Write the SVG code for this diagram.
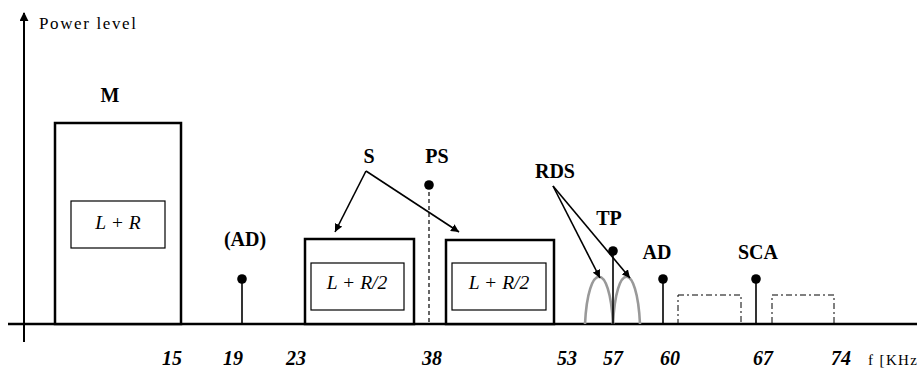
<svg xmlns="http://www.w3.org/2000/svg" width="917" height="369" viewBox="0 0 917 369">
<style>
.lbl{font-family:'Liberation Serif','DejaVu Serif',serif;font-weight:bold;font-size:20px;fill:#000;text-anchor:middle}
.num{font-family:'Liberation Serif','DejaVu Serif',serif;font-weight:bold;font-style:italic;font-size:20px;fill:#000;text-anchor:middle}
.math{font-family:'Liberation Serif','DejaVu Serif',serif;font-style:italic;font-size:19.5px;fill:#000;text-anchor:middle}
.axt{font-family:'Liberation Serif','DejaVu Serif',serif;font-size:17px;fill:#000}
.outer{fill:#fff;stroke:#000;stroke-width:2.5}
.inner{fill:#fff;stroke:#000;stroke-width:1.2}
.stem{stroke:#000;stroke-width:1.6;fill:none}
.dot{fill:#000}
.arr{stroke:#000;stroke-width:1.6;fill:none;marker-end:url(#ah)}
.dd{fill:none;stroke:#000;stroke-width:1;stroke-dasharray:6 3 2 3}
.arch{fill:none;stroke:#999;stroke-width:2.6}
</style>
<defs>
<marker id="ah" viewBox="0 0 10 10" refX="10" refY="5" markerWidth="8" markerHeight="8" markerUnits="userSpaceOnUse" orient="auto">
<path d="M0,0 L10,5 L0,10 z" fill="#000"/>
</marker>
<marker id="ahAx" viewBox="0 0 10 10" refX="9" refY="5" markerWidth="9" markerHeight="9" markerUnits="userSpaceOnUse" orient="auto">
<path d="M0,0 L10,5 L0,10 z" fill="#000"/>
</marker>
</defs>

<g id="axes">
<line x1="24" y1="342" x2="24" y2="13" stroke="#000" stroke-width="2" marker-end="url(#ahAx)"/>
<line x1="8" y1="324" x2="917" y2="324" stroke="#000" stroke-width="2.5"/>
<text class="axt" x="39" y="29" textLength="97" lengthAdjust="spacing">Power level</text>
<text class="axt" x="868" y="365" style="font-size:15px" textLength="49" lengthAdjust="spacing">f [KHz</text>
</g>

<g id="node-M">
<rect class="outer" x="55" y="123" width="126" height="201"/>
<rect class="inner" x="71" y="201" width="94" height="47"/>
<text class="math" x="118" y="229">L + R</text>
<text class="lbl" x="110" y="102">M</text>
</g>

<g id="node-AD1">
<line class="stem" x1="242" y1="279" x2="242" y2="324"/>
<circle class="dot" cx="242" cy="279" r="4.8"/>
<text class="lbl" x="245" y="246">(AD)</text>
</g>

<g id="node-S1">
<rect class="outer" x="305" y="239" width="109" height="85"/>
<rect class="inner" x="311" y="263" width="93" height="47"/>
<text class="math" x="357" y="289">L + R/2</text>
</g>

<g id="node-S2">
<rect class="outer" x="446" y="240" width="108" height="84"/>
<rect class="inner" x="452" y="263" width="94" height="47"/>
<text class="math" x="499" y="289">L + R/2</text>
</g>

<g id="node-S-label">
<text class="lbl" x="369" y="163">S</text>
</g>

<g id="node-PS">
<line x1="429" y1="185" x2="429" y2="324" stroke="#000" stroke-width="1.2" stroke-dasharray="4 3"/>
<circle class="dot" cx="429" cy="185" r="4.8"/>
<text class="lbl" x="437" y="163">PS</text>
</g>

<g id="node-RDS">
<path class="arch" d="M585,324 C588,261 610,261 613,324"/>
<path class="arch" d="M613,324 C616,261 637,261 640,324"/>
<text class="lbl" x="555" y="178">RDS</text>
</g>

<g id="node-TP">
<line class="stem" x1="613" y1="251" x2="613" y2="324"/>
<circle class="dot" cx="613" cy="251" r="4.8"/>
<text class="lbl" x="609" y="225">TP</text>
</g>

<g id="node-AD2">
<line class="stem" x1="663" y1="279" x2="663" y2="324"/>
<circle class="dot" cx="663" cy="279" r="4.8"/>
<text class="lbl" x="657" y="259">AD</text>
</g>

<g id="node-SCA">
<rect class="dd" x="678" y="295" width="63" height="29"/>
<rect class="dd" x="772" y="295" width="62" height="29"/>
<line class="stem" x1="756" y1="279" x2="756" y2="324"/>
<circle class="dot" cx="756" cy="279" r="4.8"/>
<text class="lbl" x="758" y="259">SCA</text>
</g>

<g id="connectors">
<line class="arr" x1="366" y1="171" x2="335" y2="232"/>
<line class="arr" x1="366" y1="171" x2="459" y2="232"/>
<line class="arr" x1="553" y1="186" x2="600" y2="278"/>
<line class="arr" x1="553" y1="186" x2="630" y2="278"/>
</g>

<g id="ticks">
<text class="num" x="172" y="365">15</text>
<text class="num" x="233" y="365">19</text>
<text class="num" x="296" y="365">23</text>
<text class="num" x="432" y="365">38</text>
<text class="num" x="567" y="365">53</text>
<text class="num" x="613" y="365">57</text>
<text class="num" x="670" y="365">60</text>
<text class="num" x="763" y="365">67</text>
<text class="num" x="841" y="365">74</text>
</g>
</svg>
